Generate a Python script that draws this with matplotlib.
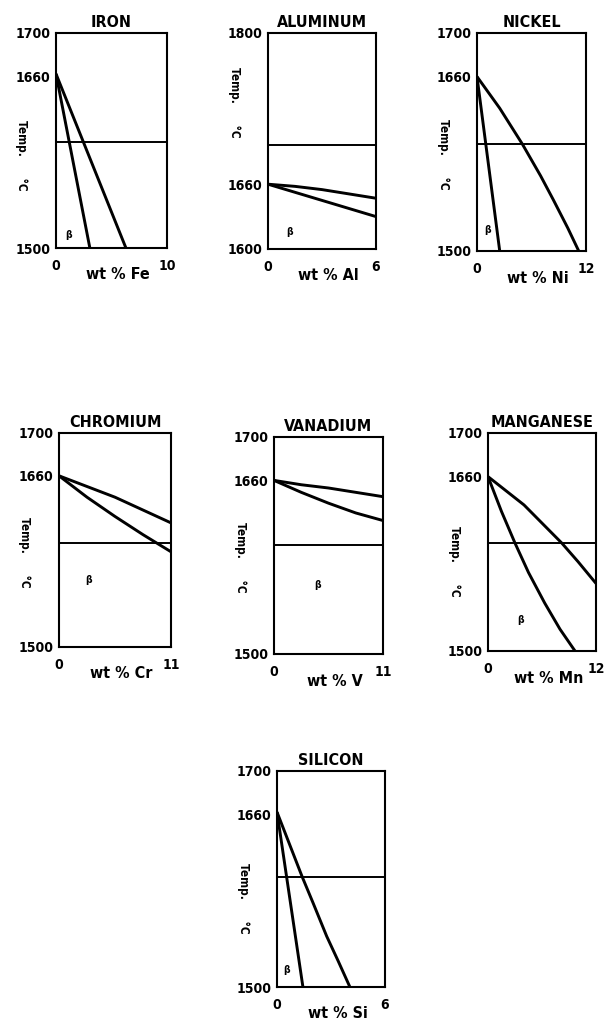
import matplotlib
matplotlib.use("Agg")
import matplotlib.pyplot as plt

# Podaci po elementima (ocitano sa slike)
names = ["IRON", "ALUMINUM", "NICKEL", "CHROMIUM", "VANADIUM", "MANGANESE", "SILICON"]
symbols = ["Fe", "Al", "Ni", "Cr", "V", "Mn", "Si"]
x_max = [10, 6, 12, 11, 11, 12, 6]
t_min = [1500, 1600, 1500, 1500, 1500, 1500, 1500]
t_max = [1700, 1800, 1700, 1700, 1700, 1700, 1700]
t_transus = [1599, 1696, 1598, 1597, 1600, 1599, 1602]

# prva granica faza (wt %, temp)
curve1_x = [[0, 3.05],
            [0, 3, 6],
            [0, 2.5],
            [0, 2.75, 5.5, 8.25, 11],
            [0, 2.75, 5.5, 8.25, 11],
            [0, 1.5, 3.0, 4.5, 6.3, 8.0, 9.67],
            [0, 1.44]]
curve1_t = [[1662, 1500],
            [1660, 1645, 1630],
            [1660, 1500],
            [1660, 1640, 1622, 1605, 1589],
            [1660, 1649, 1639, 1630, 1623],
            [1660, 1628, 1599, 1572, 1544, 1520, 1500],
            [1662, 1500]]
# druga granica faza
curve2_x = [[0, 6.3],
            [0, 1.5, 3, 4.5, 6],
            [0, 2.5, 5.0, 7.0, 8.4, 10.0, 11.2],
            [0, 2.75, 5.5, 8.25, 11],
            [0, 2.75, 5.5, 8.25, 11],
            [0, 4, 8.2, 10, 12],
            [0, 0.7, 1.4, 2.0, 2.76, 3.4, 4.05]]
curve2_t = [[1662, 1500],
            [1660, 1658, 1655, 1651, 1647],
            [1660, 1631, 1598, 1569, 1547, 1521, 1500],
            [1660, 1650, 1640, 1628, 1616],
            [1660, 1656, 1653, 1649, 1645],
            [1660, 1634, 1599, 1582, 1562],
            [1662, 1632, 1602, 1578, 1547, 1524, 1500]]

# oznaka beta faze
beta_x = [1.1, 1.2, 1.2, 2.9, 4.4, 3.6, 0.55]
beta_t = [1512, 1616, 1519, 1563, 1564, 1528, 1516]

# polozaj osa u pikselima: levo, desno, gore, dole
boxes = [(56, 167, 33, 248), (268, 376, 33, 249), (477, 586, 33, 251),
         (59, 171, 433, 647), (274, 383, 437, 654), (488, 596, 433, 651),
         (277, 385, 771, 987)]
ylab_y = [0.43, 0.68, 0.445, 0.444, 0.447, 0.413, 0.41]

W, H = 612, 1035
fig = plt.figure(figsize=(W / 100, H / 100), dpi=100)
font = dict(family="DejaVu Sans", weight="bold", stretch="condensed")

for i in range(len(names)):
    l, r, t, b = boxes[i]
    ax = fig.add_axes([l / W, 1 - b / H, (r - l) / W, (b - t) / H])
    ax.plot(curve1_x[i], curve1_t[i], color="black", lw=2.1, solid_capstyle="butt",
            solid_joinstyle="round")
    ax.plot(curve2_x[i], curve2_t[i], color="black", lw=2.1, solid_capstyle="butt",
            solid_joinstyle="round")
    ax.axhline(t_transus[i], color="black", lw=1.4)
    ax.text(beta_x[i], beta_t[i], "β", fontsize=7.5, ha="center", va="center", **font)

    ax.set_xlim(0, x_max[i])
    ax.set_ylim(t_min[i], t_max[i])
    ax.set_xticks([0, x_max[i]])
    ax.set_xticklabels(["0", str(x_max[i])], fontsize=10, **font)
    ax.set_yticks([t_min[i], 1660, t_max[i]])
    ax.set_yticklabels([str(t_min[i]), "1660", str(t_max[i])], fontsize=10, **font)
    ax.tick_params(axis="x", length=0, pad=8)
    ax.tick_params(axis="y", length=0, pad=4)
    for s in ax.spines.values():
        s.set_linewidth(1.5)

    ax.set_title(names[i], fontsize=11.5, pad=4, **font)
    ax.set_xlabel("wt % " + symbols[i], fontsize=11.5, **font)
    ax.xaxis.set_label_coords(0.56, -0.09)
    ax.text(-0.31, ylab_y[i], "Temp.      °C", rotation=270, transform=ax.transAxes,
            fontsize=8.5, ha="center", va="center", **font)

fig.savefig("out.png", dpi=100)
